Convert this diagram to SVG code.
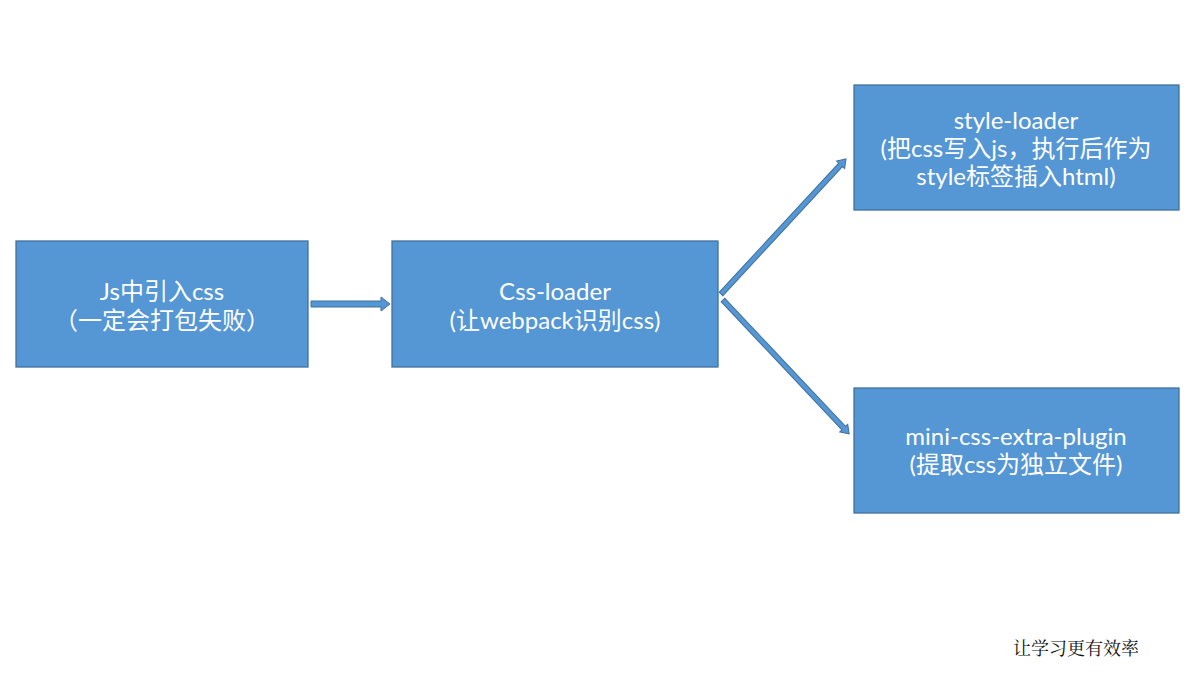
<svg xmlns="http://www.w3.org/2000/svg" width="1191" height="692" viewBox="0 0 1191 692">
  <style>
    .box { fill: #5596d5; stroke: #41719c; stroke-width: 1.3; }
    .arrow { fill: #5596d5; stroke: #41719c; stroke-width: 1; }
    .label { fill: #ffffff; font-family: Lato, "Noto Sans CJK SC", sans-serif; font-size: 24px; text-anchor: middle; }
    .note { fill: #111111; font-family: "Noto Serif CJK SC", "Noto Sans CJK SC", serif; font-size: 18px; }
  </style>
  <rect width="1191" height="692" fill="#ffffff"/>

  <!-- connectors: block arrows drawn along +x, then rotated into place -->
  <g id="connectors">
    <path class="arrow" d="M311,301 L381,301 L381,297 L390,304 L381,311 L381,307 L311,307 Z"/>
    <g transform="translate(721,294) rotate(-47.2)">
      <path class="arrow" d="M0,-2.5 L176,-2.5 L176,-5.5 L184,0 L176,5.5 L176,2.5 L0,2.5 Z"/>
    </g>
    <g transform="translate(723,300) rotate(46.7)">
      <path class="arrow" d="M0,-2.5 L176,-2.5 L176,-5.5 L184,0 L176,5.5 L176,2.5 L0,2.5 Z"/>
    </g>
  </g>

  <g id="node-js">
    <rect class="box" x="16" y="241" width="292" height="126"/>
    <text class="label" x="162" y="300">Js中引入css</text>
    <text class="label" x="162" y="329">（一定会打包失败）</text>
  </g>

  <g id="node-css-loader">
    <rect class="box" x="392" y="241" width="326" height="126"/>
    <text class="label" x="555" y="300">Css-loader</text>
    <text class="label" x="555" y="329">(让webpack识别css)</text>
  </g>

  <g id="node-style-loader">
    <rect class="box" x="854" y="85" width="325" height="125"/>
    <text class="label" x="1016" y="129">style-loader</text>
    <text class="label" x="1016" y="157">(把css写入js，执行后作为</text>
    <text class="label" x="1016" y="185">style标签插入html)</text>
  </g>

  <g id="node-mini-css">
    <rect class="box" x="854" y="388" width="325" height="125"/>
    <text class="label" x="1016" y="445">mini-css-extra-plugin</text>
    <text class="label" x="1016" y="473">(提取css为独立文件)</text>
  </g>

  <text class="note" x="1013" y="655">让学习更有效率</text>
</svg>
